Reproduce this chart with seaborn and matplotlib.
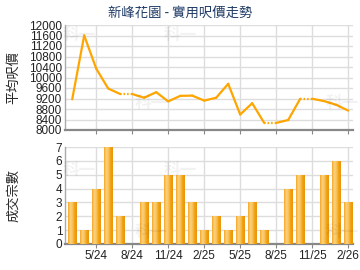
import numpy as np
import pandas as pd
import matplotlib
matplotlib.use("Agg")
import matplotlib.pyplot as plt
import seaborn as sns

months = ["3/24", "4/24", "5/24", "6/24", "7/24", "8/24", "9/24", "10/24", "11/24", "12/24",
          "1/25", "2/25", "3/25", "4/25", "5/25", "6/25", "7/25", "8/25", "9/25", "10/25",
          "11/25", "12/25", "1/26", "2/26"]
prices = [9170, 11600, 10340, 9580, 9370, 9370, 9230, 9440, 9090, 9300,
          9310, 9120, 9230, 9760, 8590, 9020, 8270, 8270, 8380, 9190,
          9190, 9100, 8960, 8740]
counts = [3, 1, 4, 7, 2, 0, 3, 3, 5, 5, 3, 1, 2, 1, 2, 3, 1, 0, 4, 5, 0, 5, 6, 3]
tick_labels = ["5/24", "8/24", "11/24", "2/25", "5/25", "8/25", "11/25", "2/26"]
title = "新峰花園 - 實用呎價走勢"
ylabel_top = "平均呎價"
ylabel_bottom = "成交宗數"

sns.set_theme(style="white")
plt.rcParams['font.family'] = ['Liberation Sans', 'Noto Sans CJK TC', 'DejaVu Sans']

fig = plt.figure(figsize=(3.6, 2.7), dpi=100)
ax1 = fig.add_axes([65/360, (270-130)/270, 288/360, 105/270])
ax2 = fig.add_axes([65/360, (270-244)/270, 288/360, 97/270])

n = len(months)
xpos = list(range(n))
tick_idx = [months.index(t) for t in tick_labels]

# line segments: dotted when leading into a month without transactions
rows = []
for i in range(1, n):
    kind = "dotted" if counts[i] == 0 else "solid"
    rows.append({"x": xpos[i-1], "price": prices[i-1], "seg": i, "kind": kind})
    rows.append({"x": xpos[i], "price": prices[i], "seg": i, "kind": kind})
df_line = pd.DataFrame(rows)

line_col = "#FFA500"
sns.lineplot(data=df_line[df_line.kind == "solid"], x="x", y="price", units="seg",
             estimator=None, color=line_col, lw=1.6, legend=False, ax=ax1, zorder=3)
n_before = len(ax1.lines)
sns.lineplot(data=df_line[df_line.kind == "dotted"], x="x", y="price", units="seg",
             estimator=None, color=line_col, lw=1.6, legend=False, ax=ax1, zorder=3)
for ln in ax1.lines[n_before:]:
    ln.set_linestyle((0, (0.7, 0.9)))

ax1.set_xlim(-0.6, n - 0.6)
ax1.set_ylim(8000, 12000)
ax1.set_yticks(np.arange(8000, 12001, 400))
ax1.set_xticks(tick_idx)
ax1.set_xticklabels([])
ax1.set_xlabel("")
ax1.set_ylabel(ylabel_top, fontsize=9.5, family=['Noto Sans CJK TC'])
fig.text(0.5, 1 - 13/270, title, fontsize=9.6, color="#1F3B66", ha="center", va="center",
         family=['Noto Sans CJK TC'])

# bars
df_bar = pd.DataFrame({"month": months, "count": counts})
sns.barplot(data=df_bar, x="month", y="count", order=months, color="#F7B23B",
            width=0.68, ax=ax2, zorder=3, edgecolor="#F0A000", linewidth=0.6)

grad = np.linspace(0, 1, 64)
cmap = matplotlib.colors.LinearSegmentedColormap.from_list(
    "bar", ["#F6A623", "#FBD27E", "#F9C35A", "#F2A011", "#E8950A"])
for p in ax2.patches:
    h = p.get_height()
    if h <= 0:
        continue
    x0 = p.get_x(); w = p.get_width()
    im = ax2.imshow(grad[np.newaxis, :], extent=[x0, x0 + w, 0, h], aspect="auto",
                    cmap=cmap, zorder=3.5, origin="lower")
    im.set_clip_path(p)

ax2.set_xlim(-0.6, n - 0.6)
ax2.set_ylim(0, 7)
ax2.set_yticks(range(0, 8))
ax2.set_xticks(tick_idx)
ax2.set_xticklabels(tick_labels)
ax2.set_xlabel("")
ax2.set_ylabel(ylabel_bottom, fontsize=9.5, family=['Noto Sans CJK TC'])

lab_x = (20 - 65) / 288
ax1.yaxis.set_label_coords(lab_x, 0.5)
ax2.yaxis.set_label_coords(lab_x, 0.5)

for ax in (ax1, ax2):
    ax.grid(True, color="#DDDDDD", lw=1.0, zorder=0)
    ax.set_axisbelow(True)
    for s in ("top", "right"):
        ax.spines[s].set_visible(False)
    ax.spines["left"].set_color("#AAAAAA")
    ax.spines["left"].set_linewidth(1.0)
    ax.spines["bottom"].set_color("#888888")
    ax.spines["bottom"].set_linewidth(1.6)
    ax.tick_params(axis="y", labelsize=8.5, length=0, pad=2)
    ax.tick_params(axis="x", labelsize=8.5, length=3, width=0.8, color="#888888",
                   pad=1, bottom=True)
    for lab in ax.get_xticklabels() + ax.get_yticklabels():
        lab.set_color("#222222")

# faint watermarks
for (fx, fy) in [(0.22, 0.87), (0.5, 0.87), (0.42, 0.62), (0.95, 0.62), (0.22, 0.37), (0.5, 0.37), (0.42, 0.14), (0.95, 0.14)]:
    fig.text(fx, fy, "科一", fontsize=12, color="#000000", alpha=0.05, ha="center", va="center",
             family=['Noto Sans CJK TC'], weight="bold")

fig.savefig("out.png", dpi=100)
